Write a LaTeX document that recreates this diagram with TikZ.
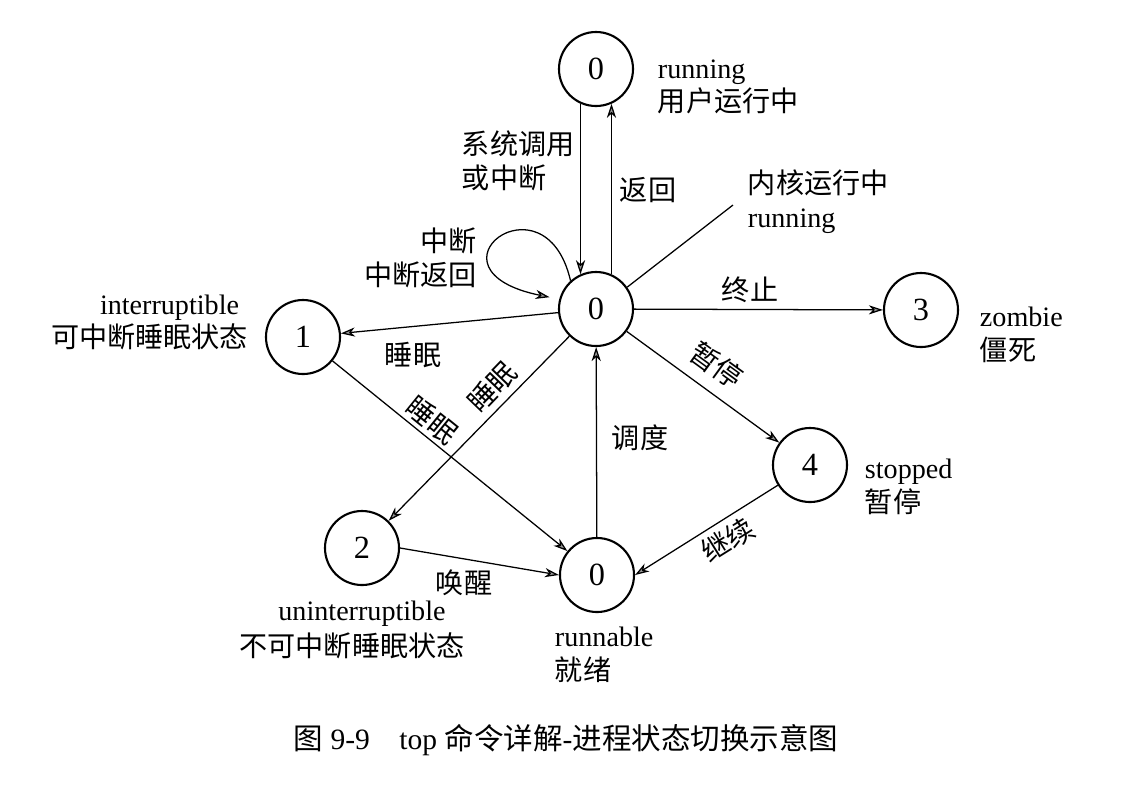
\documentclass[tikz,border=0pt]{standalone}
\usepackage{fontspec}
\setmainfont{Liberation Serif}
\newfontfamily\cjk{Noto Sans CJK SC}
\usetikzlibrary{arrows.meta}

\begin{document}
\begin{tikzpicture}[x=0.025cm,y=-0.025cm,
  every node/.append style={font=\fontsize{20}{24}\selectfont},
  state/.style={circle,draw,line width=1.5pt,minimum size=1.85cm,inner sep=0pt,font=\fontsize{23}{23}\selectfont},
  arr/.style={line width=0.9pt,-{Stealth[length=10pt,width=6.5pt,inset=3pt,fill=black!40]}}]
  \fill[white] (0,0) rectangle (1140,792);
  \useasboundingbox (0,0) rectangle (1140,792);
  % states
  \node[state] (U) at (596,69) {0};
  \node[state] (K) at (596,309) {0};
  \node[state] (S1) at (303,337) {1};
  \node[state] (S2) at (362,548) {2};
  \node[state] (S3) at (921,310) {3};
  \node[state] (S4) at (810,465) {4};
  \node[state] (R) at (597,575) {0};
  % state names
  \node[anchor=west,align=left] (nU) at (653,87) {running\\{\cjk 用户运行中}};
  \node[anchor=west,align=left] (nK) at (743,202) {{\cjk 内核运行中}\\running};
  \node[anchor=east] (nS1a) at (244,308) {interruptible};
  \node[anchor=east] (nS1b) at (253,337) {\cjk 可中断睡眠状态};
  \node (nS2a) at (362,614) {uninterruptible};
  \node (nS2b) at (352,646) {\cjk 不可中断睡眠状态};
  \node[anchor=west,align=left] (nS3) at (975,335) {zombie\\{\cjk 僵死}};
  \node[anchor=west,align=left] (nS4) at (860,487) {stopped\\{\cjk 暂停}};
  \node[anchor=west,align=left] (nR) at (550,655) {runnable\\{\cjk 就绪}};
  % transitions
  \draw[arr] (U.-114) -- (K.114);
  \draw[arr] (K.66) -- (U.-66);
  \draw[arr,shorten >=7pt] (K.132) .. controls (545,170) and (415,270) .. (K.165);
  \coordinate (kr) at (733,205);
  \draw[line width=0.9pt] (K.35) -- (kr);
  \draw[arr] (K) -- (S1);
  \draw[arr] (K) -- (S2);
  \draw[arr] (K) -- (S3);
  \draw[arr] (K) -- (S4);
  \draw[arr] (S1) -- (R);
  \draw[arr] (S2.east) -- (R.west);
  \draw[arr] (S4) -- (R.east);
  \draw[arr] (R) -- (K);
  % transition labels
  \node[anchor=west,align=left] (t1) at (457,161) {\cjk 系统调用\\\cjk 或中断};
  \node (t2) at (648,190) {\cjk 返回};
  \node[anchor=east,align=right] (t3) at (482,258) {\cjk 中断\\\cjk 中断返回};
  \node (t4) at (413,355) {\cjk 睡眠};
  \node[rotate=-39] (t5) at (432,420) {\cjk 睡眠};
  \node[rotate=46] (t6) at (492,387) {\cjk 睡眠};
  \node (t7) at (640,438) {\cjk 调度};
  \node (t8) at (750,290) {\cjk 终止};
  \node[rotate=-36] (t9) at (717,365) {\cjk 暂停};
  \node[rotate=32] (t10) at (728,540) {\cjk 继续};
  \node (t11) at (464,583) {\cjk 唤醒};
  % caption
  \node[font=\fontsize{21}{25}\selectfont] (cap) at (566,740) {{\cjk 图} 9-9\quad top {\cjk 命令详解}-{\cjk 进程状态切换示意图}};
\end{tikzpicture}
\end{document}
